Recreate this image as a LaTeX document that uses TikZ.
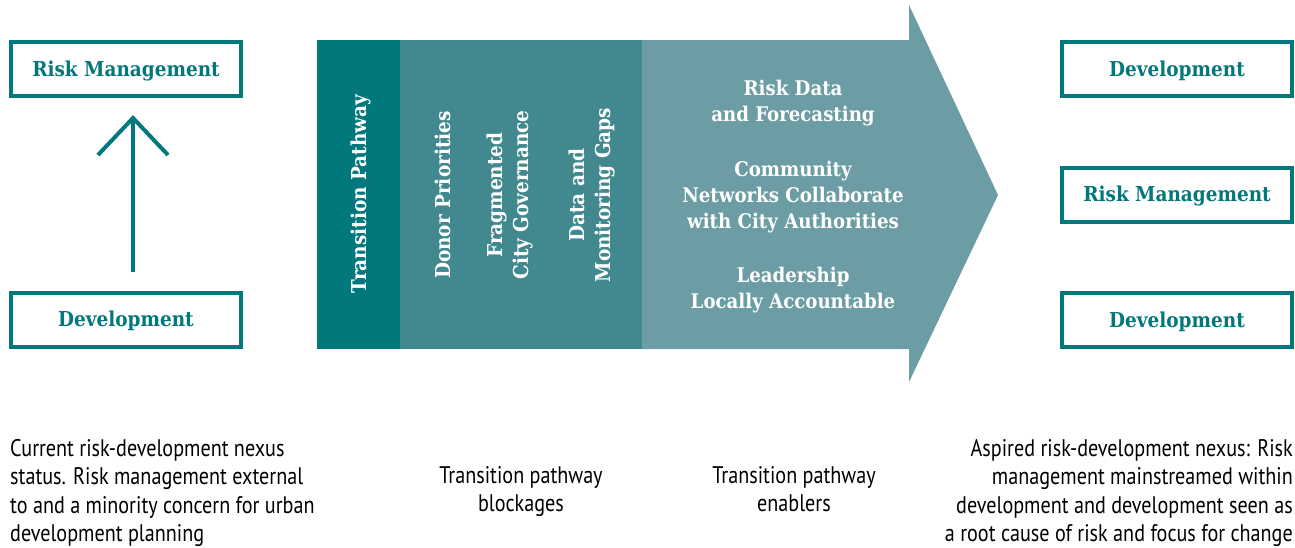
\documentclass[tikz,border=0pt]{standalone}
\usepackage{fontspec}
\setmainfont{DejaVu Serif Condensed}
\newfontfamily\capfont{PT Sans}[FakeStretch=0.84]
\definecolor{tealdark}{RGB}{0,120,124}
\definecolor{tealmid}{RGB}{65,137,143}
\definecolor{teallight}{RGB}{108,157,164}
\begin{document}
\begin{tikzpicture}[x=1pt,y=-1pt,
  nexusbox/.style={draw=tealdark,line width=4pt,fill=white,minimum width=230pt,minimum height=54pt,inner sep=0pt,
    text height=14.5pt,text depth=0pt,
    text=tealdark,font=\fontsize{20.5}{24}\selectfont\bfseries},
  bandtext/.style={text=white,font=\fontsize{20.5}{25.5}\selectfont\bfseries,align=center,rotate=90,inner sep=0pt},
  enabletext/.style={text=white,font=\fontsize{20.2}{26}\selectfont\bfseries,align=center,inner sep=0pt},
  caption/.style={font=\capfont\fontsize{24}{28.4}\selectfont,inner sep=0pt},
  openarrow/.style={draw=tealdark,line width=4pt}
]
\useasboundingbox (0,0) rectangle (1295,547);
% left nexus
\node[nexusbox] (lrisk) at (126,69) {Risk Management};
\node[nexusbox] (ldev) at (126,319.5) {Development};
\coordinate (arrbot) at (133,272);
\coordinate (arrtip) at (133,118);
\draw[openarrow] (arrbot) -- (arrtip);
\draw[openarrow,line cap=butt] (98,155) -- (arrtip) -- (168,155);
% transition band
\fill[tealdark] (317,40) rectangle (400,349);
\fill[tealmid] (400,40) rectangle (643,349);
\fill[teallight] (642,40) -- (909,40) -- (909,5) -- (998,195) -- (909,382) -- (909,349) -- (642,349) -- cycle;
\node[bandtext] (tp) at (361,194) {Transition Pathway};
\node[bandtext] (donor) at (443,195) {Donor Priorities};
\node[bandtext] (frag) at (510,195) {Fragmented\\City Governance};
\node[bandtext] (data) at (592,195) {Data and\\Monitoring Gaps};
\node[enabletext] (riskdata) at (793,103) {Risk Data\\and Forecasting};
\node[enabletext] (community) at (793,197) {Community\\Networks Collaborate\\with City Authorities};
\node[enabletext] (leader) at (793,290) {Leadership\\Locally Accountable};
% right nexus
\node[nexusbox] (rdev1) at (1177,69) {Development};
\node[nexusbox] (rrisk) at (1177,194.5) {Risk Management};
\node[nexusbox] (rdev2) at (1177,320) {Development};
% captions
\node[caption,align=left,anchor=north west] (capl) at (10,439) {Current risk-development nexus\\status. Risk management external\\to and a minority concern for urban\\development planning};
\node[caption,align=center,anchor=north] (capb) at (521,466) {Transition pathway\\blockages};
\node[caption,align=center,anchor=north] (cape) at (794,466) {Transition pathway\\enablers};
\node[caption,align=right,anchor=north east] (capr) at (1293,439) {Aspired risk-development nexus: Risk\\management mainstreamed within\\development and development seen as\\a root cause of risk and focus for change};
\end{tikzpicture}
\end{document}
